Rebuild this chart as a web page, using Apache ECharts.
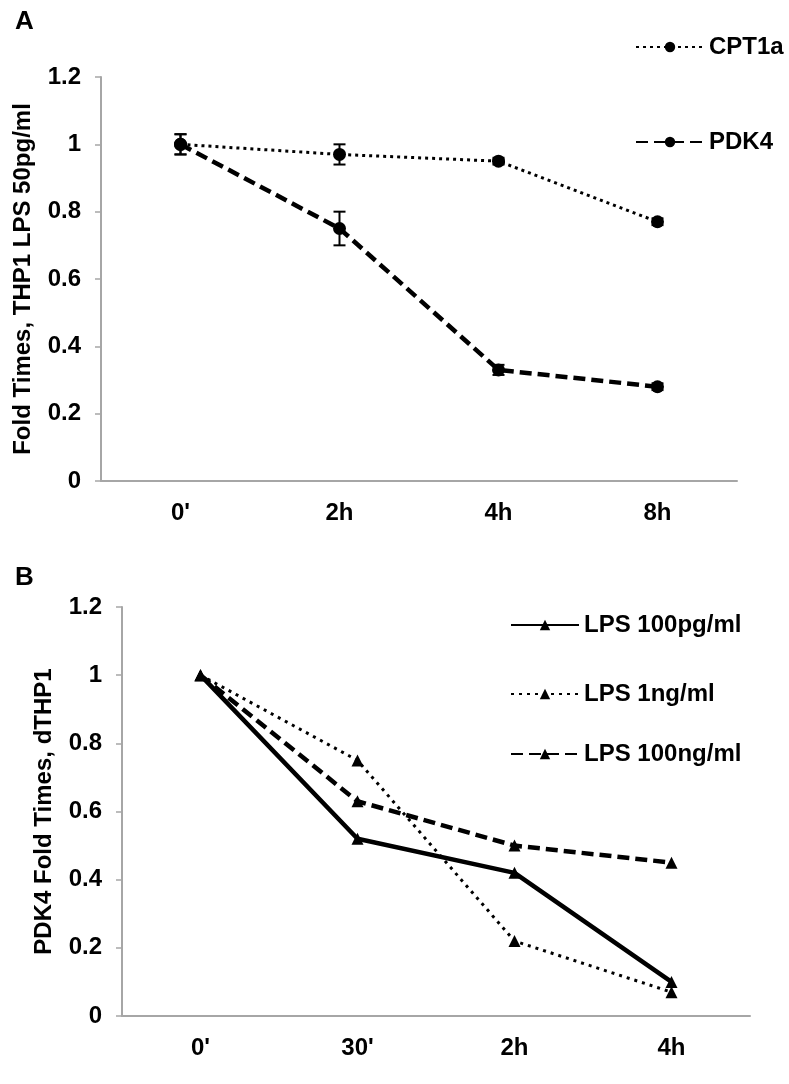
<!DOCTYPE html>
<html lang="en">
<head>
    <meta charset="UTF-8">
    <title>PDK4 / CPT1a fold times</title>
    <script src="https://cdnjs.cloudflare.com/ajax/libs/echarts/6.0.0/echarts.min.js"></script>
    <style>
        body { margin: 0; background: #fff; }
        #main { width: 789px; height: 1084px; }
    </style>
</head>
<body>
    <div id="main"></div>
    <script>
        // panel A data
        const timesA = ["0'", "2h", "4h", "8h"];
        const cpt1a = [1, 0.97, 0.95, 0.77];
        const cpt1aErr = [0.03, 0.03, 0.01, 0.01];
        const pdk4 = [1, 0.75, 0.33, 0.28];
        const pdk4Err = [0.03, 0.05, 0.015, 0.01];

        // panel B data
        const timesB = ["0'", "30'", "2h", "4h"];
        const lps100pg = [1, 0.52, 0.42, 0.10];
        const lps1ng = [1, 0.75, 0.22, 0.07];
        const lps100ng = [1, 0.63, 0.50, 0.45];

        const yTicks = [0, 0.2, 0.4, 0.6, 0.8, 1, 1.2];

        const chart = echarts.init(document.getElementById('main'));
        const font = 'Liberation Sans, Arial, sans-serif';
        const axisGray = '#a6a6a6';
        const txt = { fontFamily: font, fontWeight: 'bold', fontSize: 24, color: '#000' };

        function errBars(name, xi, vals, errs) {
            // custom series: vertical error bar with caps
            return {
                name: name + ' err',
                type: 'custom',
                xAxisIndex: xi, yAxisIndex: xi,
                z: 5,
                silent: true,
                data: vals.map((v, i) => [i, v, errs[i]]),
                renderItem: (params, api) => {
                    const i = api.value(0), v = api.value(1), e = api.value(2);
                    const top = api.coord([i, v + e]);
                    const bot = api.coord([i, v - e]);
                    const style = { stroke: '#000', lineWidth: 2 };
                    return {
                        type: 'group',
                        children: [
                            { type: 'line', shape: { x1: top[0], y1: top[1], x2: bot[0], y2: bot[1] }, style },
                            { type: 'line', shape: { x1: top[0] - 6, y1: top[1], x2: top[0] + 6, y2: top[1] }, style },
                            { type: 'line', shape: { x1: bot[0] - 6, y1: bot[1], x2: bot[0] + 6, y2: bot[1] }, style }
                        ]
                    };
                }
            };
        }

        function lineSeries(name, xi, data, type, symbol, size, width) {
            return {
                name: name,
                type: 'line',
                xAxisIndex: xi, yAxisIndex: xi,
                data: data,
                symbol: symbol,
                symbolSize: size,
                itemStyle: { color: '#000' },
                lineStyle: { color: '#000', width: width, type: type },
                z: 4
            };
        }

        function xAxisOf(gi, cats) {
            return {
                type: 'category', gridIndex: gi, data: cats, boundaryGap: true,
                axisLine: { lineStyle: { color: axisGray, width: 2 } },
                axisTick: { lineStyle: { color: axisGray, width: 1.5 }, length: 6 },
                axisLabel: Object.assign({ margin: 20 }, txt)
            };
        }

        function yAxisOf(gi, title, gap) {
            return {
                type: 'value', gridIndex: gi, min: yTicks[0], max: yTicks[yTicks.length - 1], interval: 0.2,
                name: title, nameLocation: 'middle', nameGap: gap, nameRotate: 90,
                nameTextStyle: txt,
                splitLine: { show: false },
                axisLine: { show: true, lineStyle: { color: axisGray, width: 2 } },
                axisTick: { show: true, lineStyle: { color: axisGray, width: 1.5 }, length: 6 },
                axisLabel: Object.assign({ margin: 20 }, txt)
            };
        }

        function legendItem(name, left, top) {
            return {
                data: [name], left: left, top: top,
                itemWidth: 68, itemHeight: 13, itemGap: 0,
                textStyle: txt
            };
        }

        const option = {
            backgroundColor: '#fff',
            animation: false,
            title: [
                { text: 'A', left: 10, top: 4, textStyle: Object.assign({}, txt, { fontSize: 26 }) },
                { text: 'B', left: 10, top: 560, textStyle: Object.assign({}, txt, { fontSize: 26 }) }
            ],
            grid: [
                { left: 101, right: 52, top: 77, height: 404 },
                { left: 122, right: 39, top: 607, height: 409 }
            ],
            xAxis: [xAxisOf(0, timesA), xAxisOf(1, timesB)],
            yAxis: [yAxisOf(0, 'Fold Times, THP1 LPS 50pg/ml', 66), yAxisOf(1, 'PDK4 Fold Times, dTHP1', 66)],
            legend: [
                legendItem('CPT1a', 630, 30),
                legendItem('PDK4', 630, 125),
                legendItem('LPS 100pg/ml', 505, 608),
                legendItem('LPS 1ng/ml', 505, 677),
                legendItem('LPS 100ng/ml', 505, 737)
            ],
            series: [
                lineSeries('CPT1a', 0, cpt1a, [3, 4], 'circle', 13, 3),
                lineSeries('PDK4', 0, pdk4, [12, 6], 'circle', 13, 4.5),
                errBars('CPT1a', 0, cpt1a, cpt1aErr),
                errBars('PDK4', 0, pdk4, pdk4Err),
                lineSeries('LPS 100pg/ml', 1, lps100pg, 'solid', 'triangle', 12, 4.5),
                lineSeries('LPS 1ng/ml', 1, lps1ng, [3, 5], 'triangle', 12, 3),
                lineSeries('LPS 100ng/ml', 1, lps100ng, [12, 6], 'triangle', 12, 4.5)
            ]
        };

        chart.setOption(option);
    </script>
</body>
</html>
